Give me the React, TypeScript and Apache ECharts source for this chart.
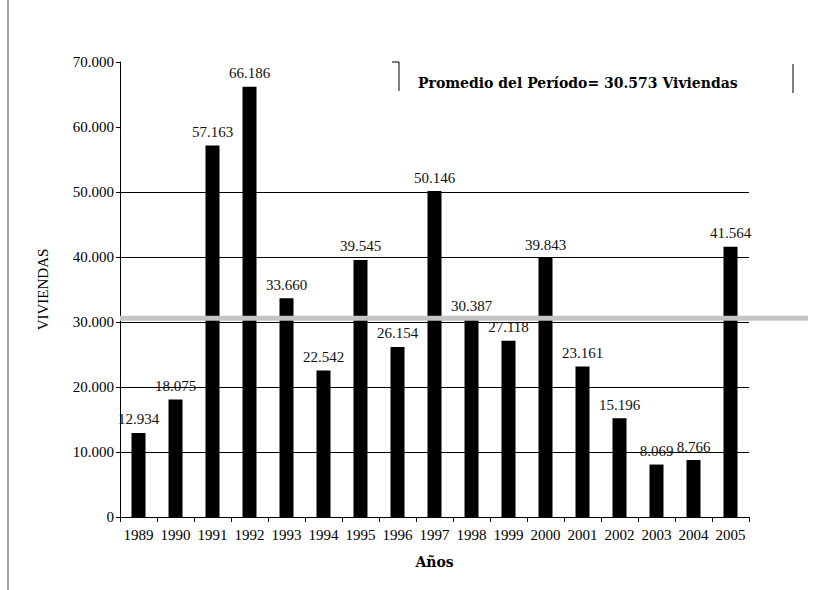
import React, { useEffect, useRef } from "react";
import * as echarts from "echarts";

const years = ["1989","1990","1991","1992","1993","1994","1995","1996","1997","1998","1999","2000","2001","2002","2003","2004","2005"];
const viviendas = [12934, 18075, 57163, 66186, 33660, 22542, 39545, 26154, 50146, 30387, 27118, 39843, 23161, 15196, 8069, 8766, 41564];
const AVERAGE = 30573;
const averageLine = [[0, AVERAGE], [1, AVERAGE]];
const gridColors = ["transparent", "#000", "#000", "#000", "#000", "#000", "transparent", "transparent"];

const fmt = (v: number) => String(Math.round(v)).replace(/\B(?=(\d{3})+(?!\d))/g, ".");
const FONT = "'Liberation Serif', 'Times New Roman', serif";
const FONT2 = "'DejaVu Serif', serif";

export default function App() {
  const ref = useRef<HTMLDivElement>(null);
  useEffect(() => {
    document.body.style.margin = "0";
    const chart = echarts.init(ref.current!, null, { renderer: "svg" });
    chart.setOption({
      animation: false,
      backgroundColor: "#fff",
      textStyle: { fontFamily: FONT, color: "#000" },
      grid: [
        { left: 120, top: 62, width: 629, height: 455 },
        { left: 120, top: 62, width: 688, height: 455 },
      ],
      xAxis: [
        {
          type: "category",
          data: years,
          gridIndex: 0,
          axisLine: { lineStyle: { color: "#000", width: 1 } },
          axisTick: { show: true, length: 5, lineStyle: { color: "#000" } },
          axisLabel: { interval: 0, fontFamily: FONT, fontSize: 15, color: "#000", margin: 10 },
          name: "Años",
          nameLocation: "middle",
          nameGap: 38,
          nameTextStyle: { fontFamily: FONT2, fontSize: 14, fontWeight: "bold", color: "#000" },
        },
        { type: "value", gridIndex: 1, min: 0, max: 1, show: false },
      ],
      yAxis: [
        {
          type: "value",
          gridIndex: 0,
          min: 0,
          max: 70000,
          interval: 10000,
          axisLine: { show: true, lineStyle: { color: "#000", width: 1 } },
          axisTick: { show: true, length: 4, lineStyle: { color: "#000" } },
          axisLabel: { fontFamily: FONT, fontSize: 15, color: "#000", margin: 6, formatter: (v: number) => fmt(v) },
          splitLine: { show: true, lineStyle: { color: gridColors, width: 1 } },
          name: "VIVIENDAS",
          nameLocation: "middle",
          nameRotate: 90,
          nameGap: 70,
          nameTextStyle: { fontFamily: FONT, fontSize: 15, color: "#000" },
        },
        { type: "value", gridIndex: 1, min: 0, max: 70000, show: false },
      ],
      series: [
        {
          type: "bar",
          data: viviendas,
          xAxisIndex: 0,
          yAxisIndex: 0,
          barWidth: 14,
          itemStyle: { color: "#000" },
          label: {
            show: true,
            position: "top",
            distance: 6,
            fontFamily: FONT,
            fontSize: 15,
            color: "#111",
            formatter: (p: any) => fmt(p.value),
          },
        },
        {
          type: "line",
          data: averageLine,
          xAxisIndex: 1,
          yAxisIndex: 1,
          symbol: "none",
          lineStyle: { color: "#c4c4c4", width: 5 },
          z: 5,
        },
      ],
      graphic: [
        {
          type: "text",
          left: 418,
          top: 76,
          style: {
            text: "Promedio del Período= " + fmt(AVERAGE) + " Viviendas",
            fontFamily: FONT2,
            fontSize: 14,
            fontWeight: "bold",
            fill: "#000",
          },
        },
        { type: "polyline", shape: { points: [[392, 62], [399, 62], [399, 91]] }, style: { stroke: "#000", lineWidth: 1, fill: "none" } },
        { type: "line", shape: { x1: 793, y1: 64, x2: 793, y2: 93 }, style: { stroke: "#000", lineWidth: 1 } },
        { type: "line", shape: { x1: 8, y1: 0, x2: 8, y2: 590 }, style: { stroke: "#444", lineWidth: 1 } },
      ],
    });
    return () => chart.dispose();
  }, []);
  return <div ref={ref} style={{ width: 818, height: 590 }} />;
}
